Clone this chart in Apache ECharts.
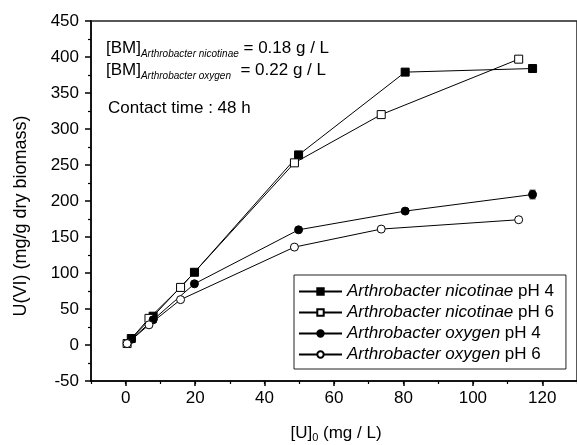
<!DOCTYPE html>
<html><head><meta charset="utf-8">
<script src="https://cdn.jsdelivr.net/npm/echarts@6/dist/echarts.min.js"></script>
<style>html,body{margin:0;padding:0;background:#fff}#c{width:577px;height:445px}</style>
</head><body><div id="c"></div>
<script>
var seriesNames = ['Arthrobacter nicotinae pH 4','Arthrobacter nicotinae pH 6','Arthrobacter oxygen pH 4','Arthrobacter oxygen pH 6'];
var x1 = [1.6, 7.9, 19.8, 49.8, 80.5, 117.2];
var y1 = [9, 40, 101, 264, 379, 384];
var x2 = [0.4, 6.7, 15.8, 48.6, 73.6, 113.2];
var y2 = [2, 37, 80, 253, 320, 397];
var x3 = [1.7, 7.9, 19.8, 49.8, 80.5, 117.2];
var y3 = [8, 35, 85, 160, 186, 209];
var e3 = [0, 0, 0, 0, 0, 6];
var x4 = [0.4, 6.7, 15.8, 48.6, 73.6, 113.2];
var y4 = [2, 28, 63, 136, 161, 174];
var xMajorTicks = [0, 20, 40, 60, 80, 100, 120];
var FONT = 'Liberation Sans, Arial, sans-serif';

function pairs(xs, ys){ return xs.map(function(x,i){ return [x, ys[i]]; }); }

var chart = echarts.init(document.getElementById('c'), null, {renderer:'canvas'});
var mk = function(name, data, symbol, filled){
  return {
    name: name, type: 'line', data: data, symbol: symbol, symbolSize: 8,
    xAxisIndex: 0, yAxisIndex: 0,
    lineStyle: {color: '#000', width: 1},
    itemStyle: {color: filled ? '#000' : '#fff', borderColor: '#000', borderWidth: 1},
    emphasis: {disabled: true}, animation: false, z: 3
  };
};
var option = {
  animation: false,
  grid: {left: 91, top: 21, right: -1, bottom: 64, show: true, borderColor: '#222', borderWidth: 1.5, backgroundColor: 'transparent'},
  xAxis: [{
    type: 'value', min: -10, max: 130,
    axisLine: {onZero: false, lineStyle: {color: '#000', width: 1.5}},
    axisTick: {show: true, inside: false, length: 5, customValues: xMajorTicks, lineStyle: {color: '#000', width: 1.5}},
    axisLabel: {customValues: xMajorTicks, fontSize: 17, color: '#000', fontFamily: FONT, margin: 9},
    splitLine: {show: false}
  }, {
    type: 'value', min: -10, max: 130, interval: 10, position: 'bottom',
    axisLine: {show: false, onZero: false},
    axisTick: {show: true, length: 3, lineStyle: {color: '#000', width: 1.2}},
    axisLabel: {show: false}, splitLine: {show: false}
  }],
  yAxis: {
    type: 'value', min: -50, max: 450, interval: 50,
    axisLine: {show: true, onZero: false, lineStyle: {color: '#000', width: 1.5}},
    axisTick: {show: true, length: 6, lineStyle: {color: '#000', width: 1.5}},
    minorTick: {show: true, splitNumber: 2, length: 3, lineStyle: {color: '#000', width: 1.2}},
    axisLabel: {fontSize: 17, color: '#000', fontFamily: FONT, margin: 12},
    splitLine: {show: false}
  },
  legend: {
    orient: 'vertical', left: 294, top: 275,
    data: seriesNames,
    itemWidth: 43, itemHeight: 8, itemGap: 4,
    padding: [8, 12, 6, 4],
    borderColor: '#222', borderWidth: 1,
    backgroundColor: '#fff',
    formatter: function(n){
      var i = n.lastIndexOf(' pH');
      return '{i|' + n.slice(0, i) + '}{r|' + n.slice(i) + '}';
    },
    textStyle: {
      fontSize: 17, fontFamily: FONT, color: '#000', lineHeight: 17,
      rich: {
        i: {fontStyle: 'italic', fontSize: 17, fontFamily: FONT, color: '#000', lineHeight: 17},
        r: {fontSize: 17, fontFamily: FONT, color: '#000', lineHeight: 17}
      }
    }
  },
  graphic: [
    {type: 'text', x: 106, y: 48, style: {
      text: '{a|[BM]}{s|Arthrobacter nicotinae}{a| = 0.18 g / L}',
      verticalAlign: 'middle', align: 'left',
      rich: {a: {fontSize: 17, fontFamily: FONT, fill: '#000', lineHeight: 24},
             s: {fontSize: 10, fontStyle: 'italic', fontFamily: FONT, fill: '#000', padding: [12,0,0,0], verticalAlign: 'middle'}}
    }},
    {type: 'text', x: 106, y: 70, style: {
      text: '{a|[BM]}{s|Arthrobacter oxygen}{a|  = 0.22 g / L}',
      verticalAlign: 'middle', align: 'left',
      rich: {a: {fontSize: 17, fontFamily: FONT, fill: '#000', lineHeight: 24},
             s: {fontSize: 10, fontStyle: 'italic', fontFamily: FONT, fill: '#000', padding: [12,0,0,0], verticalAlign: 'middle'}}
    }},
    {type: 'text', x: 108, y: 108, style: {
      text: 'Contact time : 48 h', font: '17px ' + FONT, fill: '#000', verticalAlign: 'middle', align: 'left'
    }},
    {type: 'text', x: 21, y: 216, rotation: Math.PI/2, style: {
      text: 'U(VI) (mg/g dry biomass)', font: '18px ' + FONT, fill: '#000', verticalAlign: 'middle', align: 'center'
    }},
    {type: 'text', x: 336, y: 433, style: {
      text: '{a|[U]}{s|0}{a| (mg / L)}',
      verticalAlign: 'middle', align: 'center',
      rich: {a: {fontSize: 17, fontFamily: FONT, fill: '#000', lineHeight: 22},
             s: {fontSize: 11, fontFamily: FONT, fill: '#000', padding: [10,0,0,0], verticalAlign: 'middle'}}
    }}
  ],
  series: [
    mk(seriesNames[0], pairs(x1, y1), 'rect', true),
    mk(seriesNames[1], pairs(x2, y2), 'rect', false),
    mk(seriesNames[2], pairs(x3, y3), 'circle', true),
    mk(seriesNames[3], pairs(x4, y4), 'circle', false),
    {
      type: 'custom', name: 'err', silent: true, z: 4,
      data: x3.map(function(x,i){ return [x, y3[i], e3[i]]; }),
      renderItem: function(params, api){
        var x = api.value(0), y = api.value(1), e = api.value(2);
        if (!e) return null;
        var top = api.coord([x, y + e]), bot = api.coord([x, y - e]);
        var w = 3;
        var st = {stroke: '#000', lineWidth: 1};
        return {type: 'group', children: [
          {type: 'line', shape: {x1: top[0], y1: top[1], x2: bot[0], y2: bot[1]}, style: st},
          {type: 'line', shape: {x1: top[0]-w, y1: top[1], x2: top[0]+w, y2: top[1]}, style: st},
          {type: 'line', shape: {x1: bot[0]-w, y1: bot[1], x2: bot[0]+w, y2: bot[1]}, style: st}
        ]};
      }
    }
  ]
};
chart.setOption(option);
</script></body></html>
